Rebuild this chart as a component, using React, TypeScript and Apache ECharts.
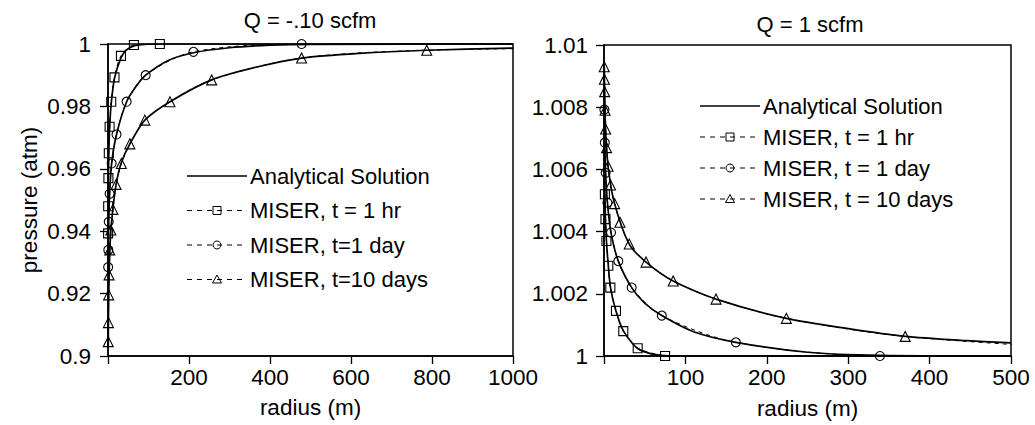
import React, { useEffect, useRef } from 'react';
import * as echarts from 'echarts';

const FONT = '"Liberation Sans", Arial, Helvetica, sans-serif';

// ---------- Left panel: Q = -.10 scfm ----------
const leftTitle = 'Q = -.10 scfm';
const leftLegend = ['Analytical Solution', 'MISER, t = 1 hr', 'MISER, t=1 day', 'MISER, t=10 days'];

const lAn1hrR = [0.25, 0.5, 1, 2, 4, 8, 16, 32, 45, 64, 90, 130, 1000];
const lAn1hrP = [0.938, 0.947, 0.956, 0.965, 0.973, 0.981, 0.989, 0.9955, 0.998, 0.9994, 0.9999, 1.0, 1.0];
const lAn1dR = [0.3, 0.8, 1.8, 4, 9, 21, 46, 70, 93, 150, 211, 300, 400, 500, 1000];
const lAn1dP = [0.928, 0.934, 0.943, 0.952, 0.9617, 0.971, 0.9815, 0.9865, 0.990, 0.9948, 0.9972, 0.9988, 0.9996, 0.9999, 1.0];
const lAn10dR = [0.6, 1, 1.6, 2.6, 4.3, 7, 12, 20, 33, 54, 91, 153, 256, 370, 478, 620, 787, 1000];
const lAn10dP = [0.903, 0.91, 0.917, 0.925, 0.933, 0.94, 0.947, 0.955, 0.962, 0.968, 0.9756, 0.9815, 0.9885, 0.9927, 0.9955, 0.997, 0.998, 0.9987];

const lM1hrR = [0.25, 0.5, 1, 2, 4, 8, 16, 32, 64, 128];
const lM1hrP = [0.9393, 0.948, 0.957, 0.965, 0.9735, 0.9815, 0.9893, 0.9962, 0.9997, 1.0];
const lM1dR = [0.35, 0.8, 1.8, 4, 9, 21, 46, 93, 211, 478, 1050];
const lM1dP = [0.9285, 0.934, 0.943, 0.952, 0.9617, 0.971, 0.9815, 0.99, 0.9975, 1.0, 1.0];
const lM10dR = [0.6, 1, 1.6, 2.6, 4.3, 7, 12, 20, 33, 54, 91, 153, 256, 478, 787, 1290];
const lM10dP = [0.9046, 0.9107, 0.9196, 0.926, 0.934, 0.9404, 0.947, 0.955, 0.9617, 0.968, 0.9756, 0.9815, 0.9885, 0.9955, 0.998, 0.9988];

// ---------- Right panel: Q = 1 scfm ----------
const rightTitle = 'Q = 1 scfm';
const rightLegend = ['Analytical Solution', 'MISER, t = 1 hr', 'MISER, t = 1 day', 'MISER, t = 10 days'];

const rAn1hrR = [0.6, 1.1, 1.8, 3, 5, 8, 14.7, 24, 41, 58, 75, 100, 500];
const rAn1hrP = [1.0058, 1.0052, 1.0044, 1.0037, 1.003, 1.0022, 1.00145, 1.0008, 1.00025, 1.00007, 1.00001, 1.0, 1.0];
const rAn1dR = [0.5, 1, 2, 4.2, 8.6, 17.6, 34, 50, 71, 110, 162, 250, 339, 500];
const rAn1dP = [1.0079, 1.00686, 1.00589, 1.00493, 1.00397, 1.00305, 1.0022, 1.0017, 1.0013, 1.00078, 1.00044, 1.00012, 1.00002, 1.0];
const rAn10dR = [0.3, 0.8, 2, 5, 13, 31, 51.6, 85, 137.6, 224, 300, 370, 440, 500];
const rAn10dP = [1.0093, 1.0085, 1.0073, 1.0061, 1.0049, 1.0036, 1.00302, 1.00241, 1.00183, 1.00121, 1.00088, 1.00063, 1.0005, 1.00042];

const rM1hrR = [1.1, 1.8, 3, 5.3, 7.8, 14.7, 23.7, 41.4, 75];
const rM1hrP = [1.0052, 1.0044, 1.0037, 1.0029, 1.0022, 1.00145, 1.0008, 1.00025, 1.0];
const rM1dR = [0.5, 1, 2, 4.2, 8.6, 17.6, 34, 71, 162, 339, 700];
const rM1dP = [1.00792, 1.00686, 1.00589, 1.00493, 1.00397, 1.00305, 1.0022, 1.0013, 1.00044, 1.0, 1.0];
const rM10dR = [0.3, 0.5, 0.8, 1.3, 2, 3.2, 5, 8, 13, 19.6, 31, 51.6, 85, 137.6, 224, 370, 610];
const rM10dP = [1.0093, 1.0089, 1.0085, 1.0079, 1.0073, 1.0067, 1.0061, 1.0055, 1.0049, 1.0043, 1.0036, 1.00302, 1.00241, 1.00183, 1.00121, 1.00063, 1.0002];

const zip = (r: number[], p: number[]) => r.map((x, i) => [x, p[i]]);

const analytic = (name: string, idx: number, r: number[], p: number[]) => ({
  name,
  type: 'line',
  xAxisIndex: idx,
  yAxisIndex: idx,
  data: zip(r, p),
  symbol: 'none',
  smooth: 0.25,
  lineStyle: { color: '#000', width: 1.7 },
  z: 3,
});

const miser = (name: string, idx: number, r: number[], p: number[], symbol: string) => ({
  name,
  type: 'line',
  xAxisIndex: idx,
  yAxisIndex: idx,
  data: zip(r, p),
  symbol,
  symbolSize: symbol === 'triangle' ? 10 : 9,
  showAllSymbol: true,
  smooth: 0.3,
  itemStyle: { color: 'rgba(0,0,0,0)', borderColor: '#000', borderWidth: 1.1 },
  lineStyle: { color: '#000', width: 1, type: [4, 4] },
  z: 4,
});

const txt = (x: number, y: number, text: string, size: number, align = 'left', rotation = 0) => ({
  type: 'text',
  x,
  y,
  rotation,
  style: {
    text,
    font: `${size}px ${FONT}`,
    fill: '#000',
    align,
    textAlign: align,
    verticalAlign: 'middle',
    textVerticalAlign: 'middle',
  },
});

const legendRow = (x0: number, y: number, sym: string, label: string) => {
  const els: any[] = [];
  const w = 60;
  if (sym === 'none') {
    els.push({ type: 'line', shape: { x1: x0, y1: y, x2: x0 + w, y2: y }, style: { stroke: '#000', lineWidth: 1.6 } });
  } else {
    els.push({ type: 'line', shape: { x1: x0, y1: y, x2: x0 + w, y2: y }, style: { stroke: '#000', lineWidth: 1, lineDash: [5, 5] } });
    const cx = x0 + w / 2;
    const st = { fill: 'none', stroke: '#000', lineWidth: 1 };
    if (sym === 'rect') els.push({ type: 'rect', shape: { x: cx - 4, y: y - 4, width: 8, height: 8 }, style: st });
    if (sym === 'circle') els.push({ type: 'circle', shape: { cx, cy: y, r: 4 }, style: st });
    if (sym === 'triangle')
      els.push({ type: 'polygon', shape: { points: [[cx, y - 4.5], [cx + 4.5, y + 3.5], [cx - 4.5, y + 3.5]] }, style: st });
  }
  els.push(txt(x0 + w + 3, y, label, 22));
  return els;
};

const axisCommon = {
  axisLine: { show: true, lineStyle: { color: '#000', width: 1.5 } },
  axisTick: { show: true, inside: false, length: 8, lineStyle: { color: '#000', width: 1.3 } },
  splitLine: { show: false },
};

const fmtY = (v: number) => String(parseFloat(v.toFixed(4)));
const fmtX = (v: number) => (v === 0 ? '' : String(v));
const LBL = 22.5;

export default function App() {
  const ref = useRef<HTMLDivElement>(null);
  useEffect(() => {
    if (!ref.current) return;
    const chart = echarts.init(ref.current, null, { renderer: 'svg' });
    const syms = ['none', 'rect', 'circle', 'triangle'];
    const graphics: any[] = [
      txt(310, 20, leftTitle, 22, 'center'),
      txt(810, 24, rightTitle, 22, 'center'),
    ];
    leftLegend.forEach((l, i) => graphics.push(...legendRow(187, 176 + i * 34.5, syms[i], l)));
    rightLegend.forEach((l, i) => graphics.push(...legendRow(700, 106 + i * 31, syms[i], l)));

    chart.setOption({
      animation: false,
      backgroundColor: '#fff',
      grid: [
        { left: 108, top: 44, width: 405, height: 312, show: true, borderColor: '#000', borderWidth: 1.5 },
        { left: 604, top: 45, width: 407, height: 312, show: true, borderColor: '#000', borderWidth: 1.5 },
      ],
      xAxis: [
        {
          ...axisCommon,
          type: 'value', gridIndex: 0, min: 0, max: 1000, interval: 200,
          name: 'radius (m)', nameLocation: 'middle', nameGap: 40,
          nameTextStyle: { color: '#000', fontSize: LBL, fontFamily: FONT },
          axisLabel: { color: '#000', fontSize: LBL, fontFamily: FONT, margin: 10, formatter: fmtX },
        },
        {
          ...axisCommon,
          type: 'value', gridIndex: 1, min: 0, max: 500, interval: 100,
          name: 'radius (m)', nameLocation: 'middle', nameGap: 41,
          nameTextStyle: { color: '#000', fontSize: LBL, fontFamily: FONT },
          axisLabel: { color: '#000', fontSize: LBL, fontFamily: FONT, margin: 10, formatter: fmtX },
        },
      ],
      yAxis: [
        {
          ...axisCommon,
          type: 'value', gridIndex: 0, min: 0.9, max: 1, interval: 0.02,
          name: 'pressure (atm)', nameLocation: 'middle', nameGap: 67,
          nameTextStyle: { color: '#000', fontSize: LBL, fontFamily: FONT },
          axisLabel: { color: '#000', fontSize: LBL, fontFamily: FONT, margin: 17, formatter: fmtY },
        },
        {
          ...axisCommon,
          type: 'value', gridIndex: 1, min: 1, max: 1.01, interval: 0.002,
          axisLabel: { color: '#000', fontSize: LBL, fontFamily: FONT, margin: 16, formatter: fmtY },
        },
      ],
      graphic: graphics,
      series: [
        analytic('L Analytical 1 hr', 0, lAn1hrR, lAn1hrP),
        analytic('L Analytical 1 day', 0, lAn1dR, lAn1dP),
        analytic('L Analytical 10 days', 0, lAn10dR, lAn10dP),
        miser('L MISER 1 hr', 0, lM1hrR, lM1hrP, 'rect'),
        miser('L MISER 1 day', 0, lM1dR, lM1dP, 'circle'),
        miser('L MISER 10 days', 0, lM10dR, lM10dP, 'triangle'),
        analytic('R Analytical 1 hr', 1, rAn1hrR, rAn1hrP),
        analytic('R Analytical 1 day', 1, rAn1dR, rAn1dP),
        analytic('R Analytical 10 days', 1, rAn10dR, rAn10dP),
        miser('R MISER 1 hr', 1, rM1hrR, rM1hrP, 'rect'),
        miser('R MISER 1 day', 1, rM1dR, rM1dP, 'circle'),
        miser('R MISER 10 days', 1, rM10dR, rM10dP, 'triangle'),
      ],
    });
    return () => chart.dispose();
  }, []);
  return <div ref={ref} style={{ position: 'absolute', left: 0, top: 0, width: 1035, height: 425 }} />;
}
